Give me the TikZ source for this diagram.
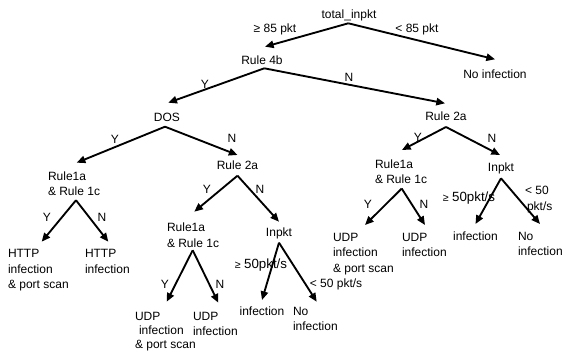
\documentclass[tikz,border=0pt]{standalone}
\usepackage{fontspec}
\setmainfont{Liberation Sans}
\usetikzlibrary{arrows.meta}
\newcommand{\geqsym}{{\fontsize{8}{9}\selectfont ≥}}
\newcommand{\bigtxt}[1]{{\fontsize{10}{12}\selectfont #1}}
\begin{document}
\begin{tikzpicture}[x=0.75pt,y=-0.75pt,
  every node/.style={inner sep=0pt, outer sep=0pt, font=\fontsize{9}{11.5}\selectfont},
  txt/.style={anchor=base},
  ml/.style={anchor=north west, align=left},
  arr/.style={line width=1.4pt, -{Triangle[length=6.5pt,width=5.5pt]}}]
\fill[white] (0,0) rectangle (565,356);
\path[use as bounding box] (0,0) rectangle (565,356);

% decision / outcome nodes
\node[txt] (root)   at (349,19)    {total\_inpkt};
\node[txt] (noinf1) at (495,79)    {No infection};
\node[txt] (r4b)    at (262,65)    {Rule 4b};
\node[txt] (dos)    at (167,121.5) {DOS};
\node[txt] (r2aR)   at (446,121)   {Rule 2a};
\node[txt] (r2aM)   at (237.5,170) {Rule 2a};
\node[txt] (inM)    at (279,237)   {Inpkt};
\node[txt] (inR)    at (501,171.5) {Inpkt};
\node[txt] (infM)   at (262,316)   {infection};
\node[txt] (infR)   at (475.5,240.5) {infection};
\node[ml] (r1L)    at (48,171.4)  {Rule1a\\\& Rule 1c};
\node[ml] (r1M)    at (167,223.1) {Rule1a\\\& Rule 1c};
\node[ml] (r1R)    at (375,159.4) {Rule1a\\\& Rule 1c};
\node[ml] (httpA)  at (8,249.7)   {HTTP\\infection\\\& port scan};
\node[ml] (httpB)  at (85,249.7)  {HTTP\\infection};
\node[ml, font=\fontsize{9}{10.5}\selectfont] (udpA) at (135,312.1) {UDP\\\hspace{3pt}infection\\\& port scan};
\node[ml] (udpB)   at (193,312.1) {UDP\\infection};
\node[ml] (udpC)   at (333,233.4) {UDP\\infection\\\& port scan};
\node[ml] (udpD)   at (402,233.4) {UDP\\infection};
\node[ml] (noinfM) at (293,307.4) {No\\infection};
\node[ml] (noinfR) at (518,232.1) {No\\infection};

% edge labels
\node[txt] (l1)  at (275,33)    {≥ 85 pkt};
\node[txt] (l2)  at (417,33)    {< 85 pkt};
\node[txt] (l3)  at (205,89)    {Y};
\node[txt] (l4)  at (349,82)    {N};
\node[txt] (l5)  at (115,143.5) {Y};
\node[txt] (l6)  at (232,142.5) {N};
\node[txt] (l7)  at (418,141.5) {Y};
\node[txt] (l8)  at (492,142.5) {N};
\node[txt] (l9)  at (207,194)   {Y};
\node[txt] (l10) at (260,194)   {N};
\node[txt] (l11) at (47,221.5)  {Y};
\node[txt] (l12) at (102,221.5) {N};
\node[txt] (l13) at (165,289)   {Y};
\node[txt] (l14) at (220,289)   {N};
\node[txt] (l15) at (368,209)   {Y};
\node[txt] (l16) at (424,209)   {N};
\node[txt] (l17) at (261,269)   {\geqsym\ \bigtxt{50pkt/s}};
\node[txt] (l18) at (336,288)   {< 50 pkt/s};
\node[txt] (l19) at (469,201.5) {\geqsym\ \bigtxt{50pkt/s}};
\node[ml]  (l20) at (525,186.4) {< 50\\\hspace{1.5pt}pkt/s};

% connectors
\draw[arr] ([shift={(-0.7,4.3)}]root.base) -- ([shift={(3,-18.3)}]r4b.base);
\draw[arr] ([shift={(-0.7,4.3)}]root.base) -- ([shift={(0,-19.7)}]noinf1.base);
\draw[arr] ([shift={(2.3,3.3)}]r4b.base) -- ([shift={(1.3,-18.8)}]dos.base);
\draw[arr] ([shift={(2.3,3.3)}]r4b.base) -- ([shift={(-1,-17.7)}]r2aR.base);
\draw[arr] ([shift={(-2,5.2)}]dos.base) -- ([shift={(28.7,-8.7)}]r1L.north west);
\draw[arr] ([shift={(-2,5.2)}]dos.base) -- ([shift={(0,-15)}]r2aM.base);
\draw[arr] ([shift={(0,6)}]r2aR.base) -- ([shift={(27,-9.4)}]r1R.north west);
\draw[arr] ([shift={(0,6)}]r2aR.base) -- ([shift={(-1,-16.5)}]inR.base);
\draw[arr] ([shift={(0,5.7)}]r2aM.base) -- ([shift={(27.3,-11.4)}]r1M.north west);
\draw[arr] ([shift={(0,5.7)}]r2aM.base) -- ([shift={(0,-15.3)}]inM.base);
\draw[arr] ([shift={(28,4.7)}]r1L.south west) -- ([shift={(33.7,-8)}]httpA.north west);
\draw[arr] ([shift={(28,4.7)}]r1L.south west) -- ([shift={(23.3,-8)}]httpB.north west);
\draw[arr] ([shift={(25.7,3)}]r1M.south west) -- ([shift={(31.7,-10.4)}]udpA.north west);
\draw[arr] ([shift={(25.7,3)}]r1M.south west) -- ([shift={(25.3,-9.4)}]udpB.north west);
\draw[arr] ([shift={(0,5.7)}]inM.base) -- ([shift={(0,-16)}]infM.base);
\draw[arr] ([shift={(0,5.7)}]inM.base) -- ([shift={(23.7,-5.7)}]noinfM.north west);
\draw[arr] ([shift={(26.7,5)}]r1R.south west) -- ([shift={(32,-8.4)}]udpC.north west);
\draw[arr] ([shift={(26.7,5)}]r1R.south west) -- ([shift={(23,-8.4)}]udpD.north west);
\draw[arr] ([shift={(0,6.8)}]inR.base) -- ([shift={(0,-16.5)}]infR.base);
\draw[arr] ([shift={(0,6.8)}]inR.base) -- ([shift={(22,-8.1)}]noinfR.north west);
\end{tikzpicture}
\end{document}
